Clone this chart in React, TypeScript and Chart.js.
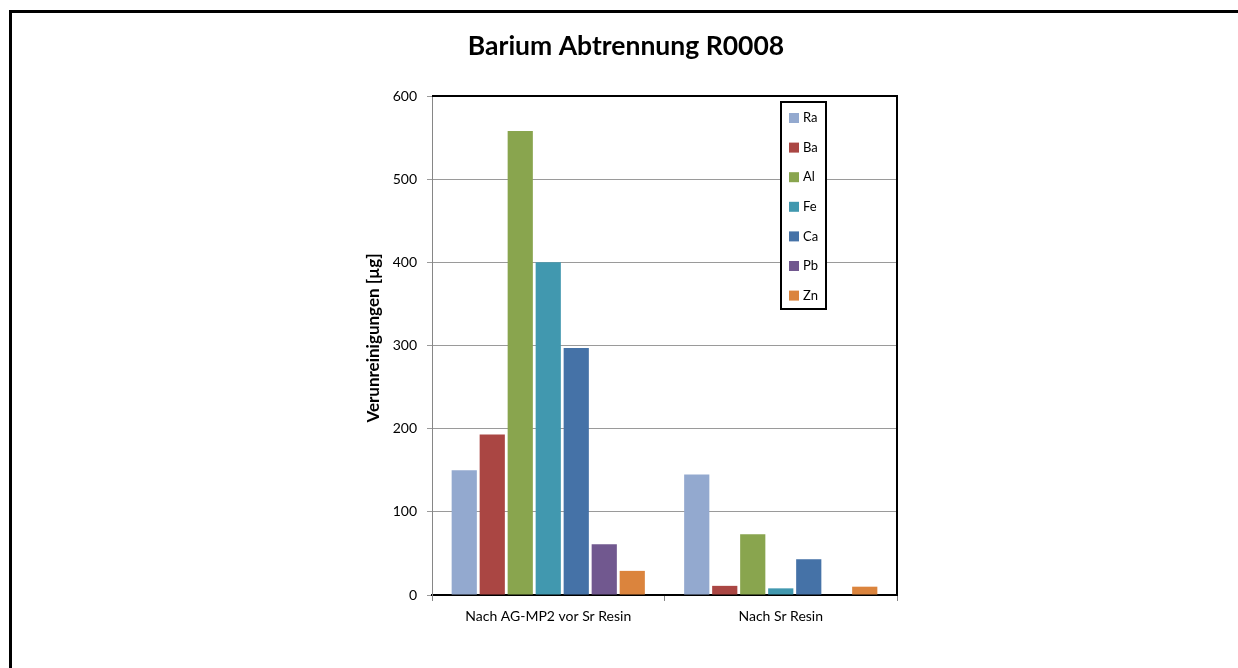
import React, { useEffect, useRef } from "react";
import { Chart, registerables } from "chart.js";

Chart.register(...registerables);

const categories = ["Nach AG-MP2 vor Sr Resin", "Nach Sr Resin"];
const seriesNames = ["Ra", "Ba", "Al", "Fe", "Ca", "Pb", "Zn"];
const raValues = [150, 145];
const baValues = [193, 11];
const alValues = [558, 73];
const feValues = [400, 8];
const caValues = [297, 43];
const pbValues = [61, 0];
const znValues = [29, 10];
const seriesColors = ["#93A9CF", "#AA4643", "#89A54E", "#4198AF", "#4572A7", "#71588F", "#DB843D"];
const yTicks = [0, 100, 200, 300, 400, 500, 600];
const chartTitle = "Barium Abtrennung R0008";
const yTitle = "Verunreinigungen [µg]";

const FONT = "Lato, 'Open Sans', sans-serif";

const decor = {
  id: "decor",
  afterDraw(chart: any) {
    const ctx = chart.ctx;
    const a = chart.chartArea;
    ctx.save();
    // outer frame
    ctx.fillStyle = "#000";
    ctx.fillRect(9, 10, 1238, 3);
    ctx.fillRect(9, 10, 3, 668);
    // plot border top & right
    ctx.strokeStyle = "#000";
    ctx.lineWidth = 2;
    ctx.beginPath();
    ctx.moveTo(a.left, a.top);
    ctx.lineTo(a.right, a.top);
    ctx.lineTo(a.right, a.bottom);
    ctx.stroke();
    // y axis title
    ctx.save();
    ctx.translate(374, 338);
    ctx.rotate(-Math.PI / 2);
    ctx.font = "bold 17px " + FONT;
    ctx.fillStyle = "#000";
    ctx.textAlign = "center";
    ctx.textBaseline = "middle";
    ctx.fillText(yTitle, 0, 0);
    ctx.restore();
    // legend
    const lx = 781, ly = 102, lw = 45, lh = 207;
    ctx.fillStyle = "#fff";
    ctx.fillRect(lx, ly, lw, lh);
    ctx.strokeStyle = "#000";
    ctx.lineWidth = 2;
    ctx.strokeRect(lx, ly, lw, lh);
    ctx.font = "13px " + FONT;
    ctx.textBaseline = "middle";
    ctx.textAlign = "left";
    seriesNames.forEach((name, i) => {
      const cy = 118 + i * 29.6;
      ctx.fillStyle = seriesColors[i];
      ctx.fillRect(789, cy - 5, 10, 10);
      ctx.fillStyle = "#000";
      ctx.fillText(name, 803, cy);
    });
    ctx.restore();
  },
};

export default function App() {
  const ref = useRef<HTMLCanvasElement>(null);
  useEffect(() => {
    if (!ref.current) return;
    const valueArrays = [raValues, baValues, alValues, feValues, caValues, pbValues, znValues];
    const chart = new Chart(ref.current, {
      type: "bar",
      data: {
        labels: categories,
        datasets: seriesNames.map((name, i) => ({
          label: name,
          data: valueArrays[i],
          backgroundColor: seriesColors[i],
          borderWidth: 0,
          barPercentage: 0.9,
          categoryPercentage: 0.843,
        })),
      },
      options: {
        responsive: false,
        animation: false,
        layout: { padding: { left: 355, right: 341, top: 0, bottom: 0 } },
        plugins: {
          legend: { display: false },
          tooltip: { enabled: false },
          title: {
            display: true,
            text: chartTitle,
            color: "#000",
            font: { family: FONT, size: 26.5, weight: "bold", lineHeight: 1.2 },
            padding: { top: 31, bottom: 33.2 },
          },
        },
        scales: {
          x: {
            offset: true,
            grid: {
              offset: true,
              drawOnChartArea: false,
              color: "#868686",
              tickLength: 6,
            },
            border: { color: "#000", width: 2 },
            ticks: { color: "#000", font: { family: FONT, size: 14 }, padding: 7 },
            afterFit(scale: any) {
              scale.height = 73;
            },
          },
          y: {
            min: 0,
            max: 600,
            afterBuildTicks(scale: any) {
              scale.ticks = yTicks.map((v) => ({ value: v }));
            },
            grid: { color: "#9a9a9a", lineWidth: 1, tickLength: 5 },
            border: { color: "#868686", width: 1 },
            ticks: { color: "#000", font: { family: FONT, size: 14 }, padding: 10 },
            title: { display: false },
            afterFit(scale: any) {
              scale.width = 77;
            },
          },
        },
      },
      plugins: [decor],
    });
    return () => chart.destroy();
  }, []);
  return (
    <div style={{ position: "fixed", left: 0, top: 0, width: 1238, height: 668, background: "#fff" }}>
      <canvas ref={ref} width={1238} height={668} />
    </div>
  );
}
